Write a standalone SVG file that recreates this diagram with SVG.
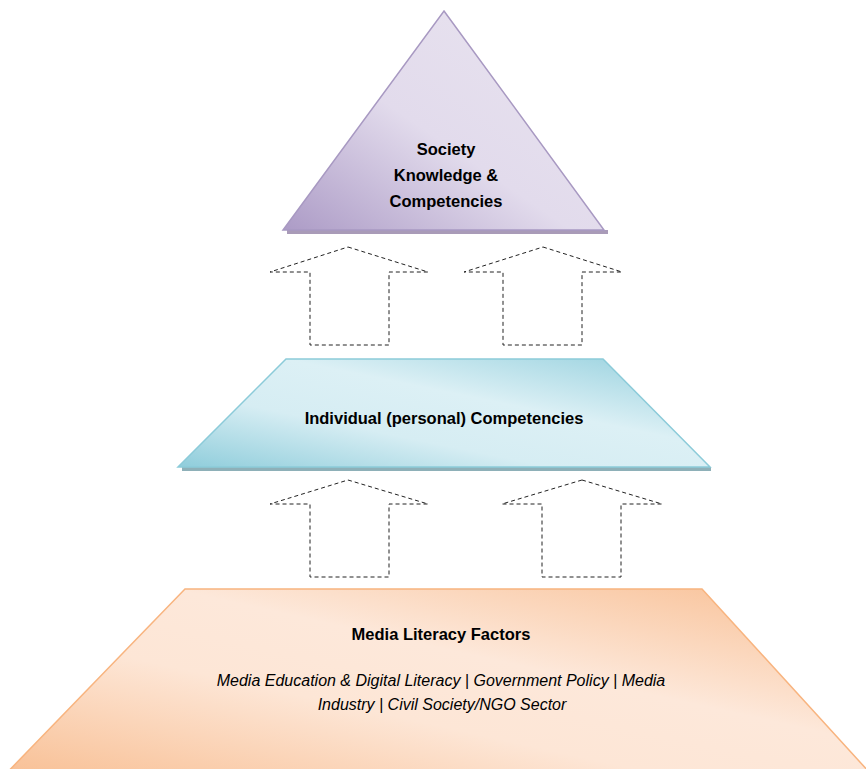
<svg xmlns="http://www.w3.org/2000/svg" width="866" height="769" viewBox="0 0 866 769">
<defs>
<linearGradient id="gPurple" x1="0" y1="1" x2="1" y2="0">
<stop offset="0" stop-color="#ac9bc6"/>
<stop offset="0.45" stop-color="#e2dbec"/>
<stop offset="0.75" stop-color="#e6e0ee"/>
<stop offset="1" stop-color="#d6cbe3"/>
</linearGradient>
<linearGradient id="gBlue" x1="0" y1="1" x2="1" y2="0">
<stop offset="0" stop-color="#8fcddb"/>
<stop offset="0.35" stop-color="#d6edf3"/>
<stop offset="0.6" stop-color="#dcf0f5"/>
<stop offset="1" stop-color="#93cfdd"/>
</linearGradient>
<linearGradient id="gOrange" x1="0" y1="1" x2="1" y2="0">
<stop offset="0" stop-color="#f8bd90"/>
<stop offset="0.4" stop-color="#fde6d6"/>
<stop offset="0.6" stop-color="#fde8da"/>
<stop offset="1" stop-color="#f8bd90"/>
</linearGradient>
</defs>
<style>
.arrow{fill:none;stroke:#222;stroke-width:1;stroke-dasharray:4 3}
.t{font-family:"Liberation Sans",Arial,sans-serif;font-weight:bold;font-size:16.5px;fill:#000;text-anchor:middle}
.ti{font-family:"Liberation Sans",Arial,sans-serif;font-style:italic;font-size:16px;fill:#000;text-anchor:middle}
</style>
<g id="node-society">
<polygon points="287,230 608,230 608,234 287,234" fill="#a99bb8"/>
<polygon points="444,11 604,230 283,230" fill="url(#gPurple)" stroke="#a899c2" stroke-width="1.5"/>
<text class="t" x="446" y="155">Society</text>
<text class="t" x="446" y="181">Knowledge &amp;</text>
<text class="t" x="446" y="207">Competencies</text>
</g>
<g id="node-individual">
<polygon points="182,467 711,467 711,471 182,471" fill="#8eb0b8"/>
<polygon points="286,359 603,359 710,467 178,467" fill="url(#gBlue)" stroke="#8ccbd9" stroke-width="1.5"/>
<text class="t" x="444" y="424">Individual (personal) Competencies</text>
</g>
<g id="node-media">
<polygon points="185,589 702,589 880,784 -4,784" fill="url(#gOrange)" stroke="#f8b47f" stroke-width="1.5"/>
<text class="t" x="441" y="640">Media Literacy Factors</text>
<text class="ti" x="441" y="686">Media Education &amp; Digital Literacy | Government Policy | Media</text>
<text class="ti" x="442" y="710">Industry | Civil Society/NGO Sector</text>
</g>
<g id="connectors">
<polygon class="arrow" points="348,247 428,272 389,272 389,345 310,345 310,272 270,272"/>
<polygon class="arrow" points="543,247 622,272 582,272 582,345 503,345 503,272 464,272"/>
<polygon class="arrow" points="348,480 428,504 389,504 389,577 310,577 310,504 270,504"/>
<polygon class="arrow" points="582,480 662,504 621,504 621,577 542,577 542,504 502,504"/>
</g>
</svg>
